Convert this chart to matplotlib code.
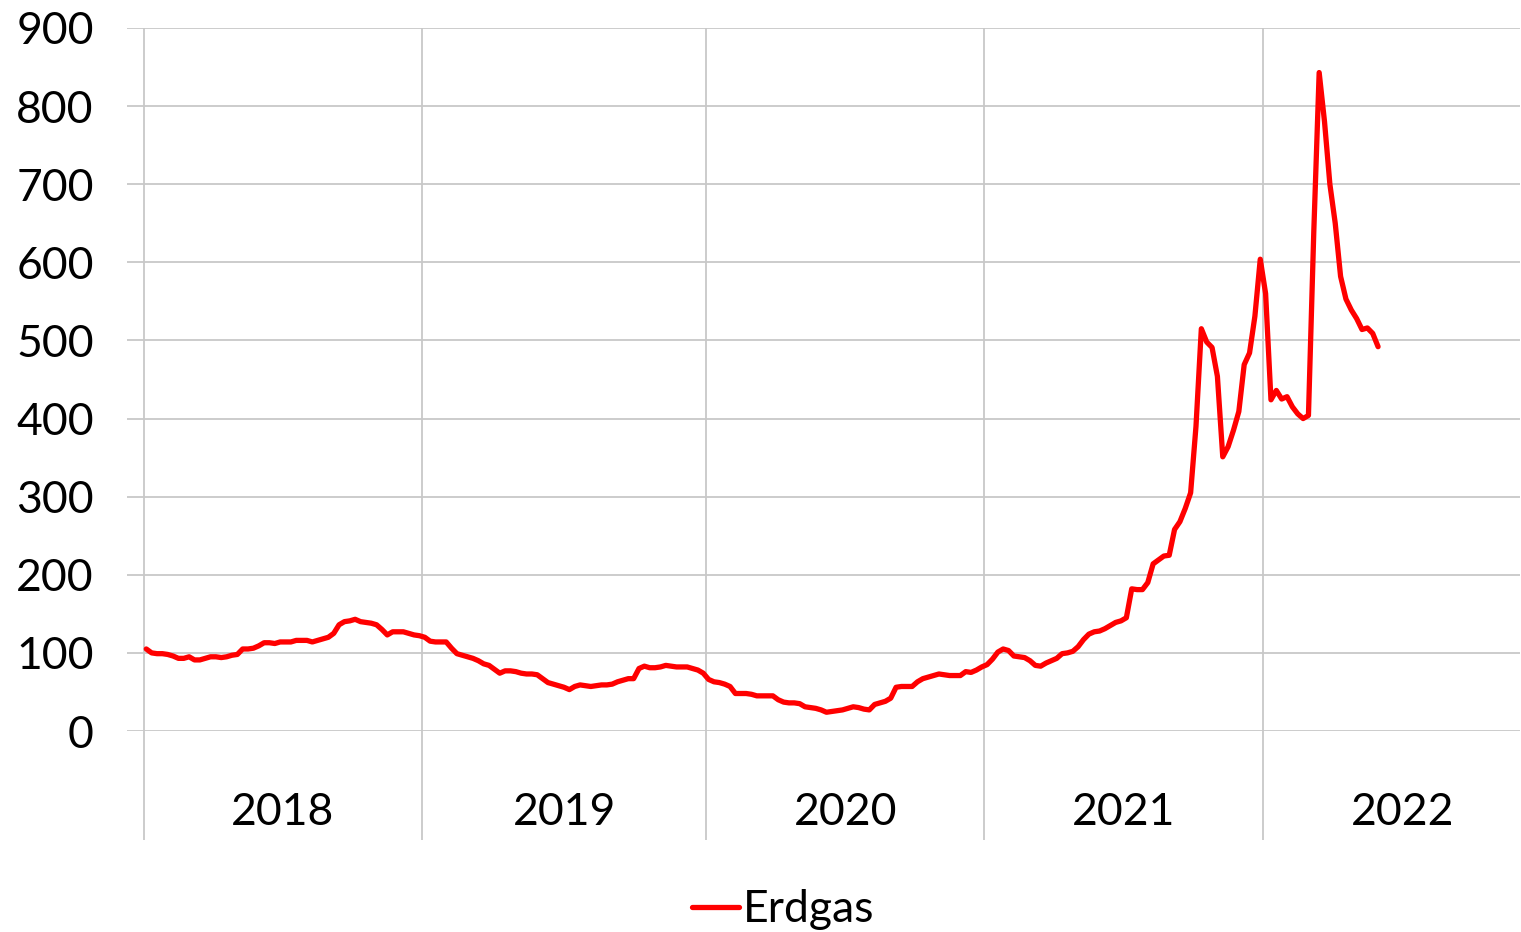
import matplotlib
matplotlib.use("Agg")
import matplotlib.pyplot as plt
import numpy as np

plt.rcParams['font.family'] = ['Lato', 'DejaVu Sans']

# weekly price index, one list per year
years = ['2018', '2019', '2020', '2021', '2022']
weeks_per_year = [52, 53, 52, 52, 52]   # categories per year on the axis
last_week_shown = 256.5                 # axis is cut off inside 2022

gas_2018 = [105, 100, 99, 99, 98, 96, 93, 93, 95, 91, 91, 93, 95, 95, 94, 95,
            97, 98, 105, 105, 106, 109, 113, 113, 112, 114, 114, 114, 116, 116,
            116, 114, 116, 118, 120, 125, 136, 140, 141, 143, 140, 139, 138,
            136, 130, 123, 127, 127, 127, 125, 123, 122]
gas_2019 = [120, 115, 114, 114, 114, 106, 99, 97, 95, 93, 90, 86, 84, 79, 74,
            77, 77, 76, 74, 73, 73, 72, 67, 62, 60, 58, 56, 53, 57, 59, 58, 57,
            58, 59, 59, 60, 63, 65, 67, 67, 80, 83, 81, 81, 82, 84, 83, 82, 82,
            82, 80, 78, 74]
gas_2020 = [66, 63, 62, 60, 57, 48, 48, 48, 47, 45, 45, 45, 45, 40, 37, 36, 36,
            35, 31, 30, 29, 27, 24, 25, 26, 27, 29, 31, 30, 28, 27, 34, 36, 38,
            42, 56, 57, 57, 57, 63, 67, 69, 71, 73, 72, 71, 71, 71, 76, 75, 78,
            82]
gas_2021 = [85, 92, 101, 105, 103, 96, 95, 94, 90, 84, 83, 87, 90, 93, 99, 100,
            102, 108, 117, 124, 127, 128, 131, 135, 139, 141, 145, 182, 181, 181,
            190, 214, 219, 224, 225, 258, 268, 285, 305, 390, 515, 498, 491, 454,
            351, 364, 385, 409, 469, 484, 531, 604]
gas_2022 = [560, 424, 436, 425, 428, 415, 406, 400, 404, 640, 843, 780, 700,
            650, 582, 553, 539, 528, 514, 516, 509, 492]

values = gas_2018 + gas_2019 + gas_2020 + gas_2021 + gas_2022
x = np.arange(len(values))

red = '#ff0000'
grid_col = '#c8c8c8'
fs = 32

fig = plt.figure(figsize=(15.21, 9.32), dpi=100)
ax = fig.add_axes([127 / 1521, 1 - 731 / 932, 1393 / 1521, 703 / 932])

ax.plot(x, values, color=red, lw=3.8, solid_joinstyle='round',
        solid_capstyle='round', label='Erdgas', zorder=3)

ax.set_ylim(0, 900)
ax.set_yticks(range(0, 901, 100))
ax.set_xlim(-3.6, last_week_shown)
ax.set_xticks([])
ax.yaxis.grid(True, color=grid_col, lw=1.3)
ax.set_axisbelow(True)
for s in ax.spines.values():
    s.set_visible(False)
ax.tick_params(axis='y', length=0, pad=24, labelsize=fs, colors='black')

# year separators run down into the label area
bounds = np.concatenate([[0], np.cumsum(weeks_per_year)]) - 0.5
ax.vlines(bounds[:-1], -139.5, 900, color=grid_col, lw=1.3, clip_on=False)
for i, yr in enumerate(years):
    mid = (bounds[i] + bounds[i + 1]) / 2
    ax.text(mid, -104, yr, ha='center', va='center', fontsize=fs, clip_on=False)

fig.legend(loc='center', bbox_to_anchor=(0.515, 0.024), frameon=False,
           fontsize=fs, handlelength=1.05, handletextpad=0.1)

fig.savefig('out.png', dpi=100)
